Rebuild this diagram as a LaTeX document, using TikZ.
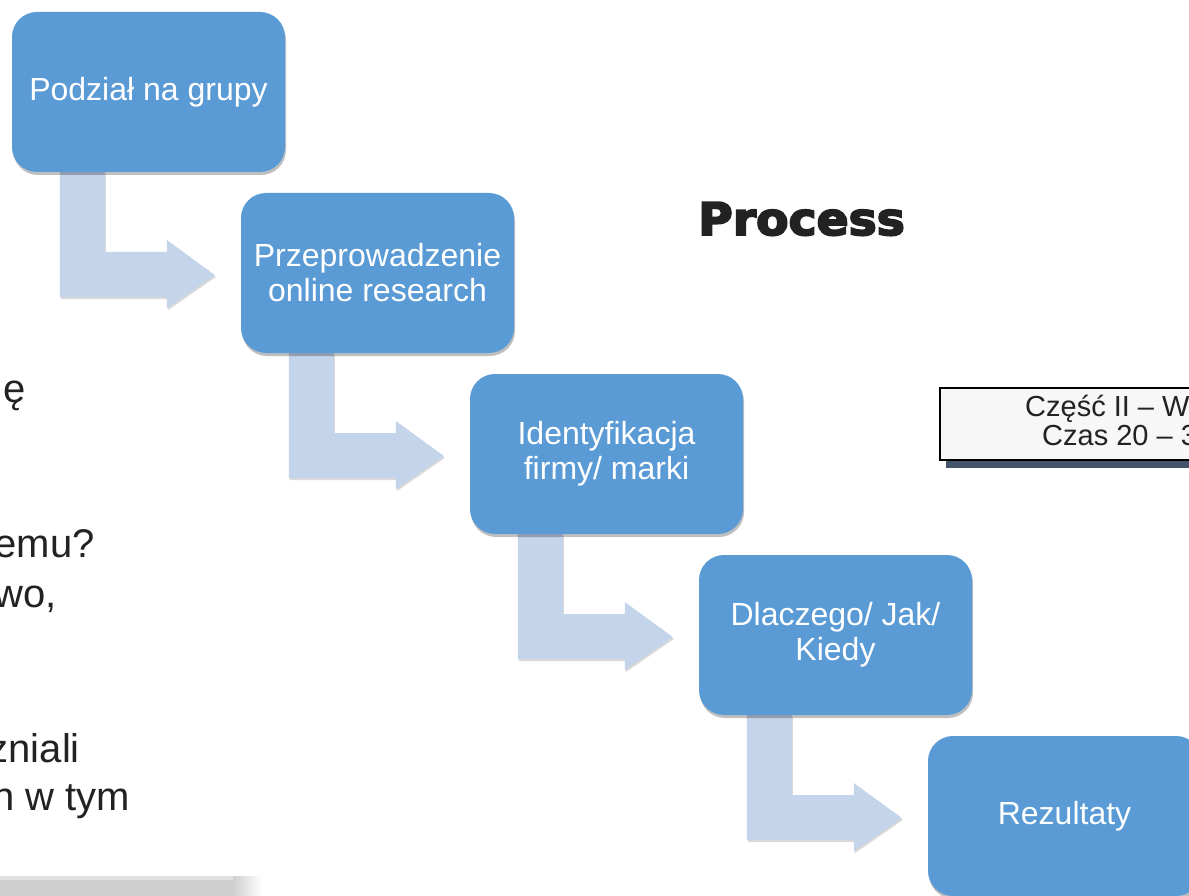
\documentclass[tikz,border=0pt]{standalone}
\usepackage{fontspec}
\setmainfont{Liberation Sans}
\newfontfamily\heavyfont[FakeBold=4]{DejaVu Sans}
\usetikzlibrary{shadows,calc,backgrounds}
\definecolor{boxblue}{HTML}{5A9BD5}
\definecolor{arrowblue}{HTML}{C4D4EA}
\definecolor{darktext}{HTML}{222222}
\definecolor{slate}{HTML}{44546A}
\tikzset{
  stepbox/.style={rounded corners=25pt, minimum width=273pt, minimum height=160pt,
    fill=boxblue, text=white, align=center, inner sep=0pt,
    font=\fontsize{32}{35}\selectfont,
    drop shadow={shadow xshift=1pt, shadow yshift=-3pt, fill=black, opacity=0.25}},
  flowarrow/.style={fill=arrowblue,
    drop shadow={shadow xshift=1pt, shadow yshift=-2pt, fill=black, opacity=0.15}},
  sidetext/.style={inner sep=0pt, text=darktext, font=\fontsize{40}{46}\selectfont},
  notetext/.style={inner sep=0pt, text=darktext, font=\fontsize{29}{32}\selectfont}
}
\newcommand{\flowconn}[2]{%
  \fill[flowarrow] ($(#1.south west)+(48,0)$) -- ++(0,125) -- ++(107,0) -- ++(0,11)
    -- ($(#2.west)+(-26,2)$) -- ++(-48,-35) -- ++(0,12) -- ++(-62,0) -- ++(0,-80) -- cycle;}
\begin{document}
\begin{tikzpicture}[x=1pt,y=-1pt]
\useasboundingbox (0,0) rectangle (1189,896);

% bottom-left panel shadow
\fill[black!19] (0,876) rectangle (233,896);
\fill[black!12] (0,876) rectangle (233,880);
\shade[left color=black!19, right color=white] (233,876) rectangle (262,896);

% left text fragments
\node[sidetext, anchor=base west] (t1) at (3,402) {ę};
\node[sidetext, anchor=base east] (t2) at (95,557) {emu?};
\node[sidetext, anchor=base east] (t3) at (57,607) {wo,};
\node[sidetext, anchor=base east] (t4) at (80,762) {zniali};
\node[sidetext, anchor=base east] (t5) at (130,810) {n w tym};

% title
\node[inner sep=0pt, anchor=base west, text=darktext] (title) at (698,235)
  {\scalebox{1.05}[1]{\heavyfont\bfseries\fontsize{45}{50}\selectfont Process}};

% note box top right
\fill[slate] (946,395) rectangle (1210,468);
\draw[line width=2pt, fill=black!3] (940,388) rectangle (1205,460);
\node[notetext, anchor=base west] (n1) at (1025,416) {Część II – W};
\node[notetext, anchor=base west] (n2) at (1042,445) {Czas 20 – 3};

% step boxes
\node[stepbox] (b1) at (148.5,92) {Podział na grupy};
\node[stepbox] (b2) at (377.5,273) {Przeprowadzenie\\online research};
\node[stepbox] (b3) at (606.5,454) {Identyfikacja\\firmy/ marki};
\node[stepbox] (b4) at (835.5,635) {Dlaczego/ Jak/\\Kiedy};
\node[stepbox] (b5) at (1064.5,816) {Rezultaty};

\begin{scope}[on background layer]
\fill[white] (0,0) rectangle (1189,896);
\flowconn{b1}{b2}
\flowconn{b2}{b3}
\flowconn{b3}{b4}
\flowconn{b4}{b5}
\end{scope}
\end{tikzpicture}
\end{document}
